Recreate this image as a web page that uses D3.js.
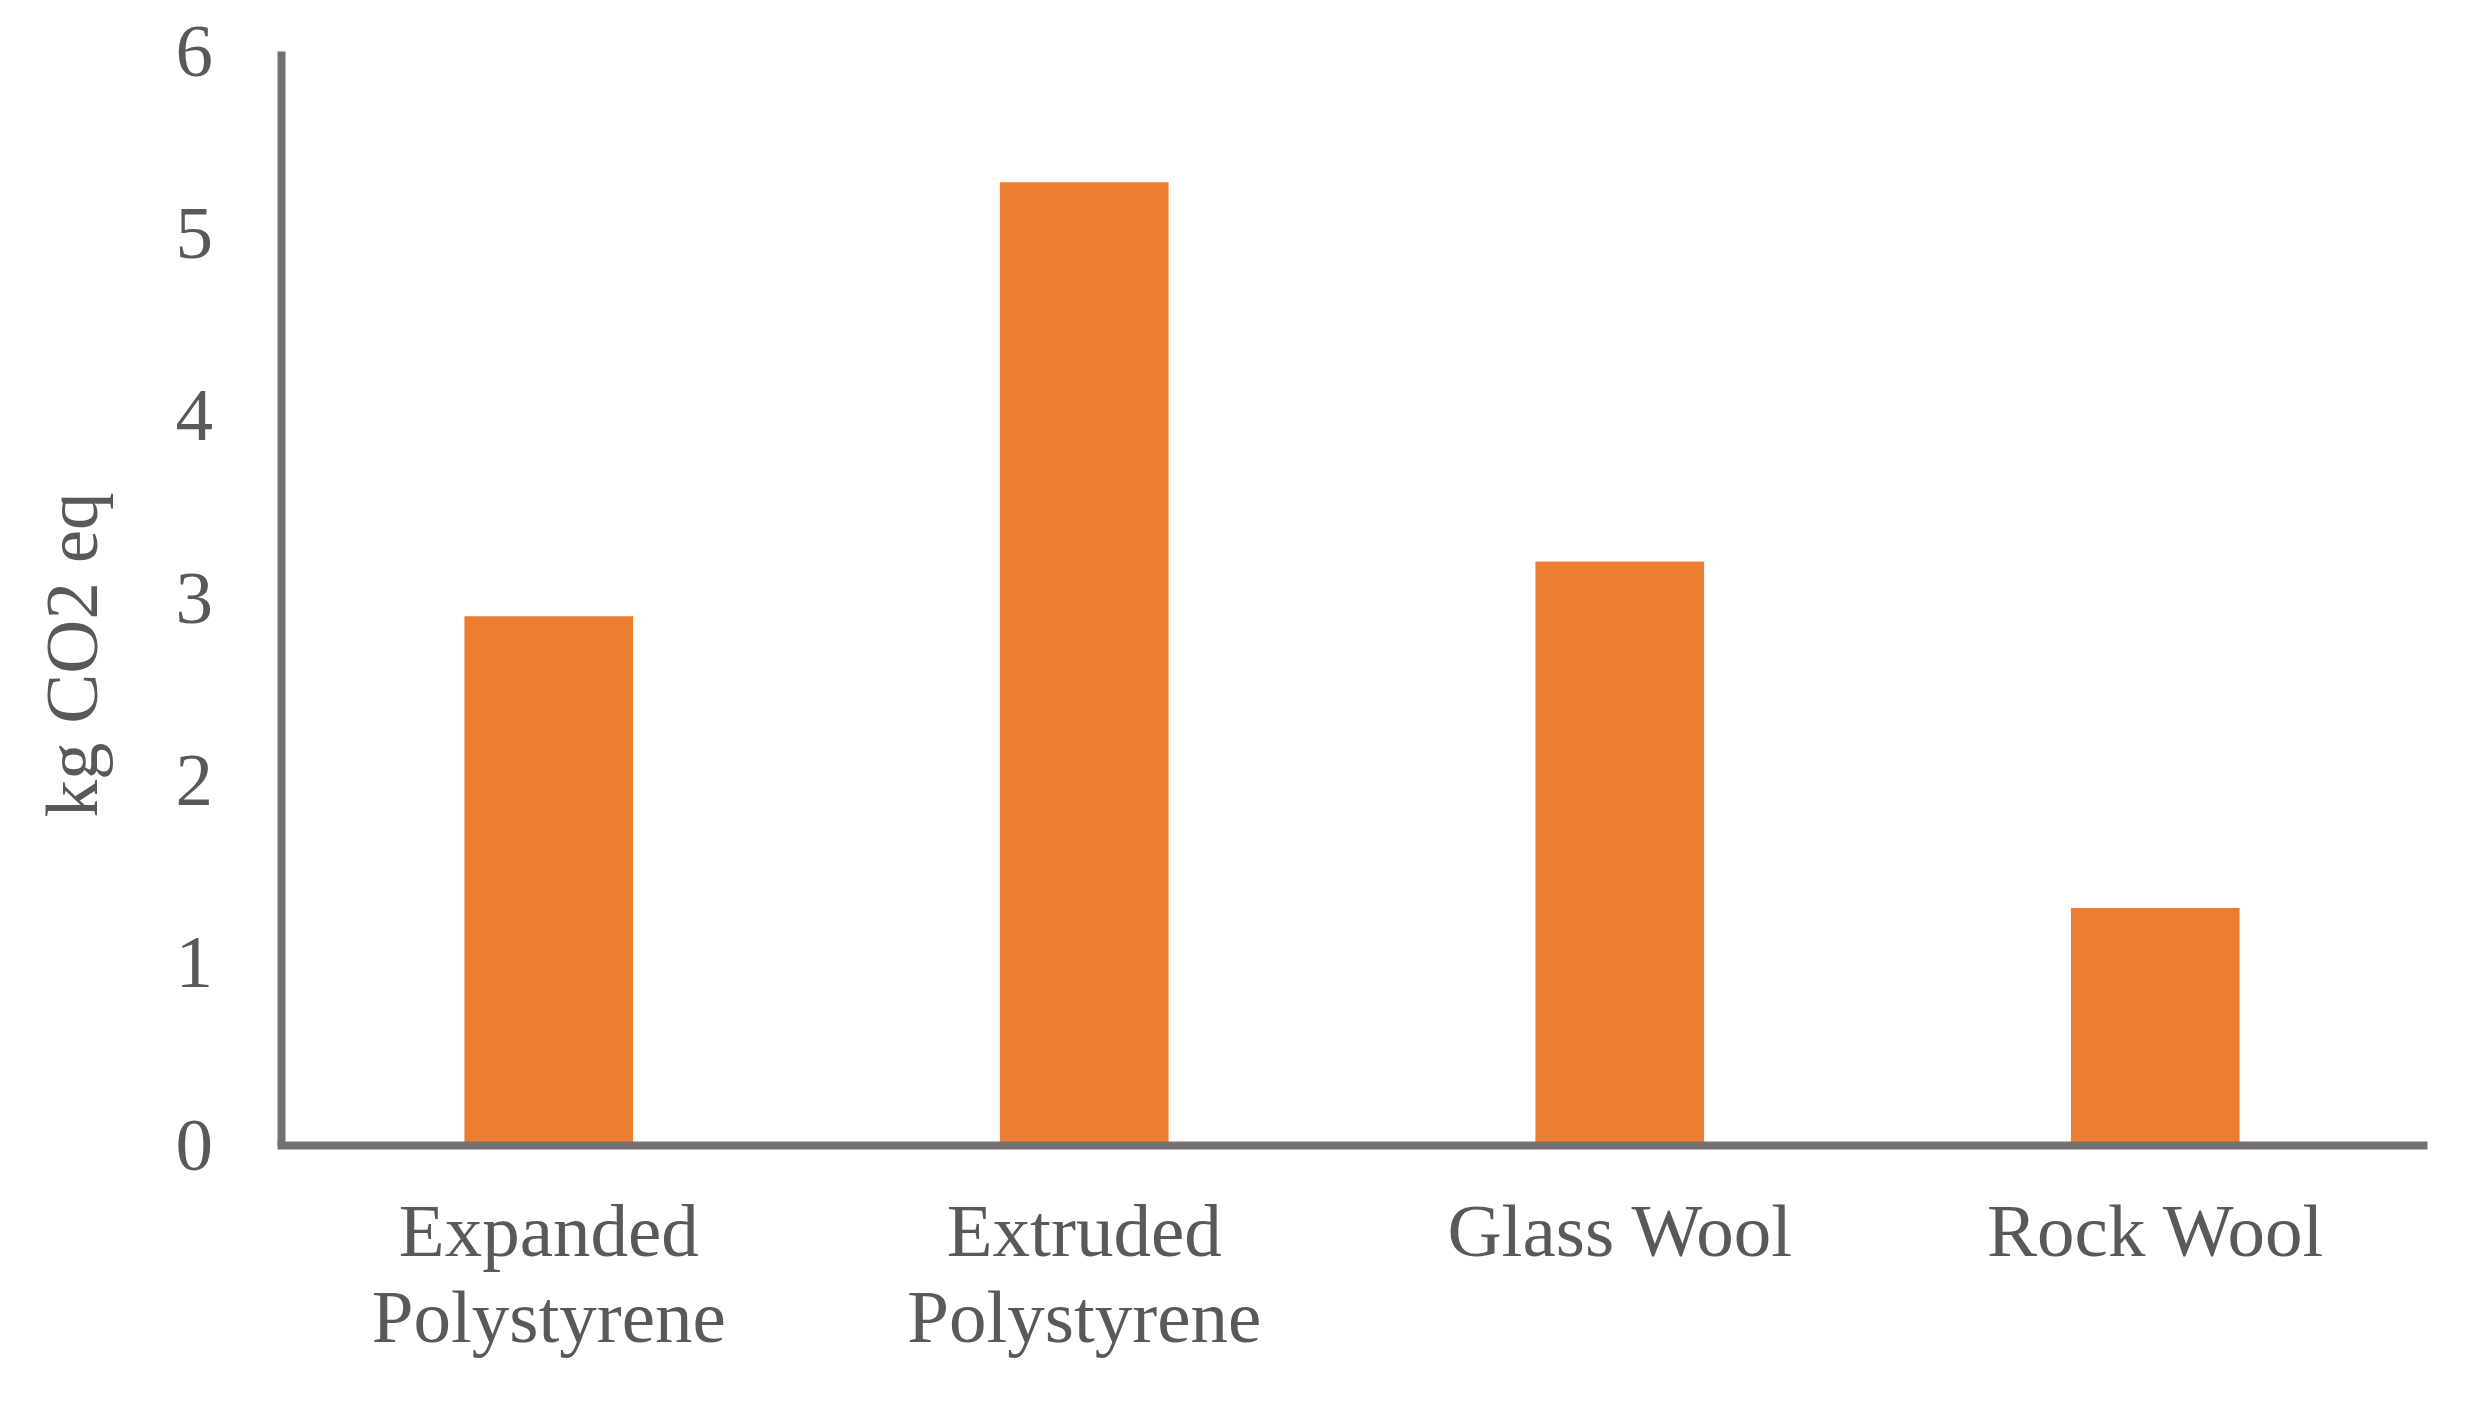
<!DOCTYPE html>
<html>
<head>
<meta charset="utf-8">
<script src="https://cdn.jsdelivr.net/npm/d3@7"></script>
<style>
  body { margin: 0; background: #fff; }
  svg { display: block; font-family: "Liberation Serif", "Times New Roman", serif; }
</style>
</head>
<body>
<div id="chart"></div>
<script>
// data
const categories = ['Expanded Polystyrene', 'Extruded Polystyrene', 'Glass Wool', 'Rock Wool'];
const values = [2.90, 5.28, 3.20, 1.30];
const yTicks = [0, 1, 2, 3, 4, 5, 6];
const yLabel = 'kg CO2 eq';

const width = 2471, height = 1406;
const margin = { left: 281, right: 2423, top: 51, bottom: 1145 };

const svg = d3.select('#chart')
    .append('svg')
    .attr('width', width)
    .attr('height', height);

const x = d3.scaleBand()
    .domain(categories)
    .range([margin.left, margin.right])
    .paddingInner(0.685)
    .paddingOuter(0.3425);

const y = d3.scaleLinear()
    .domain([0, 6])
    .range([margin.bottom, margin.top]);

const rows = categories.map((c, i) => ({ name: c, value: values[i] }));

// bars
svg.append('g')
    .selectAll('rect')
    .data(rows)
    .join('rect')
    .attr('x', d => x(d.name))
    .attr('y', d => y(d.value))
    .attr('width', x.bandwidth())
    .attr('height', d => y(0) - y(d.value))
    .attr('fill', '#ED7D31');

// y axis
const gy = svg.append('g')
    .attr('transform', `translate(${margin.left},0)`)
    .call(d3.axisLeft(y).tickValues(yTicks).tickFormat(d3.format('d')).tickSize(0).tickPadding(68));

gy.select('.domain')
    .attr('stroke', '#767171')
    .attr('stroke-width', 8);

gy.selectAll('text')
    .attr('fill', '#595959')
    .style('font-size', '75px')
    .style('font-family', '"Liberation Serif", "Times New Roman", serif');

// x axis
const gx = svg.append('g')
    .attr('transform', `translate(0,${margin.bottom})`)
    .call(d3.axisBottom(x).tickSize(0).tickPadding(0));

gx.select('.domain')
    .attr('stroke', '#767171')
    .attr('stroke-width', 8)
    .attr('stroke-linecap', 'square');

gx.selectAll('text')
    .attr('fill', '#595959')
    .attr('y', 0)
    .attr('dy', null)
    .style('font-size', '75px')
    .style('font-family', '"Liberation Serif", "Times New Roman", serif')
    .call(wrap, x.step() * 0.95);

// y axis title
svg.append('text')
    .attr('transform', `translate(97,655) rotate(-90)`)
    .attr('text-anchor', 'middle')
    .attr('fill', '#595959')
    .style('font-size', '75px')
    .text(yLabel);

// wrap category names onto lines, like the spreadsheet does
function wrap(texts, maxWidth) {
    texts.each(function() {
        const text = d3.select(this);
        const words = text.text().split(' ');
        text.text(null);
        const lines = [];
        let line = [];
        let tspan = text.append('tspan');
        words.forEach(w => {
            line.push(w);
            tspan.text(line.join(' '));
            if (tspan.node().getComputedTextLength() > maxWidth && line.length > 1) {
                line.pop();
                lines.push(line.join(' '));
                line = [w];
            }
        });
        lines.push(line.join(' '));
        text.text(null);
        lines.forEach((l, i) => {
            text.append('tspan')
                .attr('x', 0)
                .attr('y', 111 + i * 86)
                .text(l);
        });
    });
}
</script>
</body>
</html>
